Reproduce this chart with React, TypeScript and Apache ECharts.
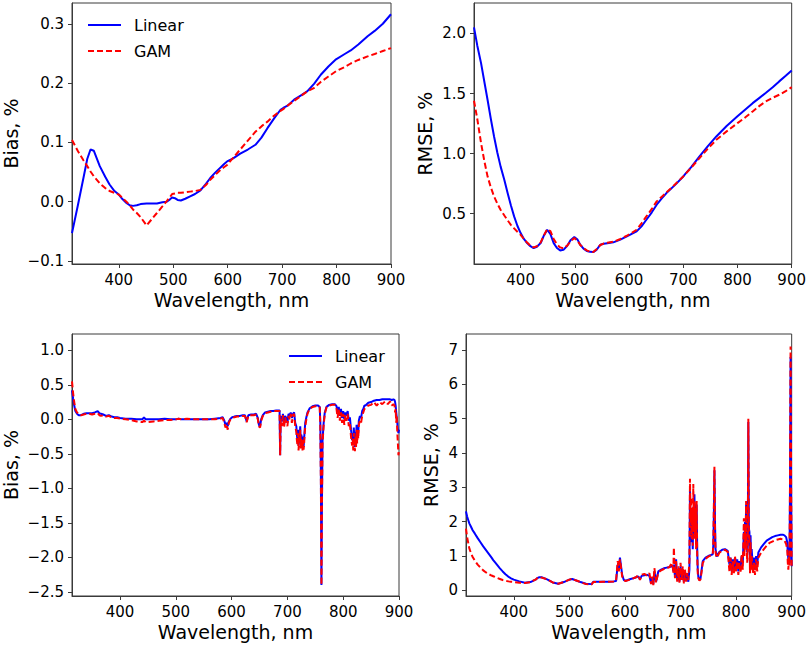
import React, { useEffect, useRef } from "react";
import * as echarts from "echarts";

// ---------- shared axis values ----------
const X_MIN = 314;
const X_MAX = 900;
const xTicks = [400, 500, 600, 700, 800, 900];

// ---------- top-left: Bias (smooth) ----------
const tlWl = [
  314, 325, 335, 342, 348, 354, 365, 375, 383, 392,
  400, 407, 414, 420, 426, 433, 440, 451, 460, 470,
  480, 488, 494, 498, 503, 508, 514, 522, 531, 540,
  550, 560, 568, 577, 586, 593, 599, 610, 623, 637,
  651, 662, 673, 685, 697, 702, 710, 722, 734, 746,
  759, 771, 785, 799, 815, 826, 840, 857, 870, 885,
  900,
];
const tlLinear = [
  -0.053, -0.005, 0.040, 0.072, 0.088, 0.086, 0.060, 0.042, 0.029, 0.018,
  0.012, 0.004, -0.002, -0.006, -0.007, -0.006, -0.004, -0.003, -0.003, -0.003,
  -0.001, 0.000, 0.004, 0.007, 0.006, 0.003, 0.002, 0.005, 0.009, 0.013,
  0.019, 0.030, 0.040, 0.049, 0.057, 0.063, 0.068, 0.073, 0.081, 0.088,
  0.096, 0.108, 0.124, 0.140, 0.155, 0.158, 0.162, 0.172, 0.179, 0.186,
  0.199, 0.214, 0.228, 0.240, 0.249, 0.255, 0.265, 0.279, 0.288, 0.300,
  0.316,
];
const tlGam = [
  0.104, 0.085, 0.070, 0.060, 0.051, 0.043, 0.031, 0.023, 0.018, 0.015,
  0.012, 0.006, 0.000, -0.006, -0.013, -0.019, -0.026, -0.040, -0.030, -0.019,
  -0.008, 0.001, 0.008, 0.013, 0.014, 0.015, 0.015, 0.016, 0.017, 0.018,
  0.020, 0.028, 0.037, 0.045, 0.053, 0.058, 0.062, 0.074, 0.088, 0.103,
  0.118, 0.127, 0.135, 0.145, 0.153, 0.156, 0.162, 0.170, 0.178, 0.186,
  0.192, 0.202, 0.211, 0.220, 0.227, 0.233, 0.239, 0.245, 0.249, 0.254,
  0.259,
];
const tlYTicks = [-0.1, 0.0, 0.1, 0.2, 0.3];

// ---------- top-right: RMSE (smooth) ----------
const trWl = [
  314, 320, 327, 333, 339, 345, 351, 357, 363, 370,
  376, 382, 388, 394, 400, 406, 412, 418, 424, 430,
  437, 443, 449, 455, 461, 467, 473, 479, 486, 492,
  499, 505, 510, 516, 522, 528, 534, 540, 547, 553,
  560, 571, 584, 596, 605, 614, 623, 632, 642, 651,
  660, 669, 685, 700, 715, 730, 745, 761, 780, 800,
  814, 828, 840, 852, 865, 877, 889, 900,
];
const trLinear = [
  2.05, 1.90, 1.753, 1.60, 1.448, 1.29, 1.143, 1.01, 0.894, 0.78,
  0.672, 0.57, 0.478, 0.40, 0.339, 0.29, 0.256, 0.23, 0.214, 0.225,
  0.256, 0.32, 0.367, 0.33, 0.256, 0.215, 0.195, 0.200, 0.234, 0.280,
  0.306, 0.285, 0.242, 0.210, 0.190, 0.183, 0.181, 0.200, 0.242, 0.250,
  0.255, 0.262, 0.285, 0.311, 0.333, 0.353, 0.395, 0.450, 0.512, 0.575,
  0.625, 0.672, 0.740, 0.810, 0.890, 0.977, 1.060, 1.143, 1.230, 1.310,
  1.365, 1.420, 1.462, 1.504, 1.552, 1.601, 1.647, 1.692,
];
const trGam = [
  1.44, 1.29, 1.088, 0.94, 0.811, 0.72, 0.644, 0.585, 0.533, 0.485,
  0.445, 0.408, 0.378, 0.350, 0.325, 0.290, 0.260, 0.235, 0.220, 0.230,
  0.262, 0.320, 0.372, 0.355, 0.290, 0.245, 0.220, 0.212, 0.235, 0.270,
  0.298, 0.275, 0.240, 0.215, 0.195, 0.185, 0.181, 0.205, 0.240, 0.252,
  0.258, 0.267, 0.290, 0.317, 0.340, 0.367, 0.420, 0.478, 0.540, 0.603,
  0.640, 0.677, 0.745, 0.810, 0.885, 0.963, 1.040, 1.115, 1.185, 1.254,
  1.300, 1.351, 1.395, 1.434, 1.465, 1.490, 1.520, 1.553,
];
const trYTicks = [0.5, 1.0, 1.5, 2.0];

// ---------- bottom panels: full spectral resolution ----------
const fullWl = [
  314, 316, 318, 320, 323, 326, 330, 335, 340, 345,
  350, 355, 360, 363, 366, 370, 375, 380, 385, 390,
  395, 400, 410, 420, 430, 440, 443, 446, 450, 460,
  470, 480, 490, 500, 505, 510, 520, 530, 540, 543,
  550, 560, 570, 580, 584, 587, 589, 591, 593, 595,
  598, 601, 605, 610, 615, 620, 624, 627, 630, 635,
  640, 644, 647, 649, 651, 653, 656, 660, 665, 670,
  675, 680, 684, 686, 687, 688, 690, 692, 694, 696,
  698, 700, 702, 704, 706, 708, 710, 712, 714, 716,
  717, 718, 719, 720, 721, 722, 723, 724, 725, 726,
  727, 728, 729, 730, 731, 732, 734, 736, 738, 740,
  745, 750, 755, 758, 759, 760, 761, 762, 763, 765,
  767, 770, 775, 780, 785, 788, 790, 792, 794, 796,
  798, 800, 802, 804, 806, 808, 810, 812, 814, 815,
  816, 817, 818, 819, 820, 821, 822, 823, 824, 825,
  826, 827, 828, 830, 832, 834, 836, 838, 840, 845,
  850, 855, 860, 865, 870, 875, 880, 884, 887, 890,
  892, 893, 894, 895, 896, 897, 898, 899, 900,
];
const blLinear = [
  0.42, 0.30, 0.20, 0.12, 0.08, 0.06, 0.06, 0.08, 0.09, 0.09,
  0.09, 0.10, 0.12, 0.09, 0.08, 0.07, 0.05, 0.06, 0.04, 0.03,
  0.03, 0.02, 0.01, 0.01, 0.00, 0.00, 0.03, 0.00, 0.00, 0.00,
  0.00, 0.01, 0.00, 0.00, 0.01, 0.00, 0.00, 0.00, 0.00, 0.00,
  0.00, 0.00, 0.01, 0.02, 0.03, -0.02, -0.08, -0.05, -0.10, -0.03,
  0.01, 0.03, 0.04, 0.05, 0.05, 0.06, 0.06, -0.03, 0.06, 0.07,
  0.07, 0.08, 0.02, -0.08, -0.10, 0.00, 0.06, 0.10, 0.11, 0.12,
  0.12, 0.13, 0.13, 0.13, -0.52, 0.05, -0.03, 0.08, -0.06, 0.05,
  0.02, -0.05, 0.08, 0.05, 0.10, 0.02, 0.08, 0.10, -0.05, -0.10,
  -0.22, -0.30, -0.15, -0.38, -0.20, -0.25, -0.10, -0.35, -0.22, -0.30,
  -0.38, -0.25, -0.40, -0.28, -0.15, -0.05, 0.03, 0.10, 0.13, 0.16,
  0.19, 0.20, 0.20, 0.18, -0.05, -0.80, -2.40, -1.10, -0.30, -0.05,
  0.10, 0.18, 0.21, 0.22, 0.22, 0.19, 0.10, 0.18, 0.05, 0.15,
  0.02, 0.12, 0.00, 0.10, 0.05, 0.12, -0.02, 0.03, -0.15, -0.22,
  -0.30, -0.20, -0.35, -0.12, -0.28, -0.40, -0.18, -0.30, -0.08, -0.25,
  -0.10, -0.20, -0.02, 0.05, 0.02, 0.12, 0.15, 0.20, 0.20, 0.24,
  0.25, 0.27, 0.28, 0.28, 0.29, 0.29, 0.29, 0.29, 0.28, 0.29,
  0.28, 0.25, 0.20, 0.10, 0.10, -0.05, -0.15, -0.20, -0.15,
];
const blGam = [
  0.55, 0.38, 0.25, 0.15, 0.10, 0.08, 0.06, 0.07, 0.08, 0.08,
  0.07, 0.08, 0.09, 0.06, 0.05, 0.06, 0.04, 0.05, 0.03, 0.02,
  0.02, 0.01, 0.00, -0.01, -0.03, -0.04, -0.02, -0.04, -0.04, -0.03,
  -0.02, -0.01, -0.01, 0.00, 0.01, 0.00, 0.01, 0.00, 0.00, 0.00,
  0.00, 0.00, 0.00, 0.01, 0.02, -0.05, -0.12, -0.07, -0.15, -0.05,
  0.00, 0.02, 0.03, 0.04, 0.04, 0.05, 0.05, -0.04, 0.05, 0.06,
  0.06, 0.07, 0.00, -0.10, -0.12, -0.02, 0.05, 0.09, 0.10, 0.11,
  0.12, 0.12, 0.12, 0.12, -0.52, 0.00, -0.10, 0.06, -0.12, 0.03,
  -0.05, -0.10, 0.05, 0.00, 0.08, -0.05, 0.06, 0.08, -0.10, -0.18,
  -0.30, -0.38, -0.20, -0.45, -0.25, -0.32, -0.15, -0.42, -0.28, -0.38,
  -0.45, -0.30, -0.44, -0.35, -0.20, -0.10, 0.00, 0.08, 0.12, 0.15,
  0.18, 0.19, 0.19, 0.17, -0.10, -0.90, -2.40, -1.20, -0.35, -0.08,
  0.08, 0.17, 0.20, 0.21, 0.21, 0.15, 0.02, 0.14, -0.02, 0.10,
  -0.05, 0.08, -0.08, 0.06, -0.02, 0.08, -0.10, -0.05, -0.25, -0.32,
  -0.38, -0.28, -0.45, -0.20, -0.35, -0.46, -0.25, -0.40, -0.15, -0.35,
  -0.18, -0.28, -0.08, -0.02, -0.05, 0.05, 0.10, 0.15, 0.16, 0.20,
  0.21, 0.25, 0.20, 0.25, 0.22, 0.26, 0.22, 0.26, 0.20, 0.22,
  0.20, 0.10, 0.15, -0.05, 0.05, -0.20, -0.35, -0.52, -0.45,
];
const blYTicks = [-2.5, -2.0, -1.5, -1.0, -0.5, 0.0, 0.5, 1.0];

const brLinear = [
  2.30, 2.15, 2.05, 1.95, 1.85, 1.75, 1.65, 1.52, 1.40, 1.28,
  1.17, 1.06, 0.95, 0.88, 0.82, 0.74, 0.64, 0.55, 0.47, 0.40,
  0.35, 0.31, 0.26, 0.22, 0.24, 0.32, 0.36, 0.38, 0.38, 0.32,
  0.23, 0.19, 0.24, 0.31, 0.33, 0.30, 0.24, 0.19, 0.18, 0.25,
  0.25, 0.25, 0.25, 0.26, 0.27, 0.75, 0.60, 0.95, 0.70, 0.45,
  0.30, 0.28, 0.30, 0.33, 0.35, 0.38, 0.40, 0.32, 0.42, 0.44,
  0.45, 0.42, 0.20, 0.35, 0.18, 0.55, 0.25, 0.55, 0.60, 0.64,
  0.66, 0.68, 0.70, 0.72, 0.55, 0.75, 0.40, 0.90, 0.30, 0.60,
  0.25, 0.70, 0.35, 0.60, 0.25, 0.55, 0.30, 0.45, 0.25, 0.60,
  2.90, 1.80, 2.40, 1.40, 2.00, 1.20, 2.30, 1.60, 2.80, 1.80,
  2.20, 1.40, 2.50, 1.20, 0.60, 0.40, 0.30, 0.35, 0.60, 0.85,
  0.95, 1.00, 1.03, 1.05, 1.30, 2.20, 3.50, 2.00, 1.20, 0.98,
  1.05, 1.12, 1.18, 1.20, 1.15, 0.75, 0.95, 0.55, 0.90, 0.65,
  0.95, 0.70, 0.90, 0.55, 0.85, 0.65, 1.00, 0.80, 1.70, 1.20,
  2.00, 1.30, 2.50, 1.50, 1.10, 1.60, 4.90, 1.80, 1.70, 0.70,
  1.60, 0.80, 1.20, 0.70, 0.95, 0.60, 1.00, 0.75, 1.10, 1.25,
  1.35, 1.45, 1.50, 1.55, 1.58, 1.60, 1.62, 1.62, 1.60, 1.55,
  1.40, 1.10, 0.90, 1.20, 0.80, 3.00, 6.80, 2.50, 0.70,
];
const brGam = [
  1.80, 1.55, 1.38, 1.22, 1.08, 0.97, 0.86, 0.75, 0.66, 0.58,
  0.52, 0.47, 0.43, 0.41, 0.39, 0.36, 0.33, 0.30, 0.28, 0.26,
  0.25, 0.24, 0.22, 0.21, 0.24, 0.32, 0.37, 0.38, 0.37, 0.32,
  0.23, 0.19, 0.24, 0.31, 0.34, 0.30, 0.24, 0.18, 0.17, 0.24,
  0.24, 0.25, 0.25, 0.26, 0.27, 0.85, 0.55, 0.90, 0.65, 0.40,
  0.30, 0.27, 0.29, 0.32, 0.35, 0.38, 0.45, 0.30, 0.45, 0.48,
  0.42, 0.50, 0.18, 0.40, 0.15, 0.65, 0.22, 0.52, 0.58, 0.62,
  0.65, 0.67, 0.80, 0.68, 0.50, 1.25, 0.35, 0.85, 0.25, 0.70,
  0.22, 0.80, 0.30, 0.70, 0.20, 0.60, 0.25, 0.50, 0.30, 0.90,
  3.25, 2.00, 2.70, 1.50, 2.30, 1.30, 3.10, 1.70, 2.60, 1.50,
  2.40, 1.20, 2.60, 1.00, 0.50, 0.35, 0.28, 0.32, 0.55, 0.80,
  0.92, 0.98, 1.02, 1.04, 1.40, 2.50, 3.60, 1.80, 1.10, 0.95,
  1.00, 1.10, 1.15, 1.18, 1.12, 0.55, 0.95, 0.45, 0.85, 0.50,
  1.00, 0.55, 0.85, 0.45, 0.80, 0.50, 1.05, 0.60, 2.10, 1.00,
  1.80, 1.20, 2.60, 1.30, 0.80, 1.40, 5.00, 1.50, 1.60, 0.50,
  1.40, 0.60, 1.00, 0.50, 0.80, 0.45, 0.90, 0.55, 0.95, 1.10,
  1.20, 1.30, 1.38, 1.42, 1.46, 1.48, 1.50, 1.48, 1.45, 1.35,
  1.20, 0.80, 0.60, 1.00, 0.70, 3.20, 7.10, 3.00, 0.70,
];
const brYTicks = [0, 1, 2, 3, 4, 5, 6, 7];

const SERIES_NAMES = ["Linear", "GAM"];

// ---------- styles ----------
const FONT = "DejaVu Sans";
const AXIS_COLOR = "#3a3a3a";
const BLUE = "#0000ff";
const RED = "#ff0000";

const pairs = (xs: number[], ys: number[]) => xs.map((x, i) => [x, ys[i]]);
const fmt1 = (v: number) => v.toFixed(1).replace("-", "\u2212");
const fmt0 = (v: number) => v.toFixed(0);

function xAxis(gridIndex: number) {
  return {
    type: "value",
    gridIndex,
    min: X_MIN,
    max: X_MAX,
    name: "Wavelength, nm",
    nameLocation: "middle",
    nameGap: 26,
    nameTextStyle: { fontFamily: FONT, fontSize: 19, color: "#000" },
    axisLine: { show: true, onZero: false, lineStyle: { color: AXIS_COLOR, width: 1 } },
    axisTick: {
      show: true,
      inside: false,
      length: 4,
      customValues: xTicks,
      lineStyle: { color: AXIS_COLOR, width: 1 },
    },
    axisLabel: {
      customValues: xTicks,
      fontFamily: FONT,
      fontSize: 15,
      color: "#000",
      margin: 8,
      showMinLabel: true,
      showMaxLabel: true,
    },
    splitLine: { show: false },
  };
}

function yAxis(
  gridIndex: number,
  name: string,
  min: number,
  max: number,
  ticks: number[],
  fmt: (v: number) => string,
  nameGap: number
) {
  return {
    type: "value",
    gridIndex,
    min,
    max,
    name,
    nameLocation: "middle",
    nameGap,
    nameTextStyle: { fontFamily: FONT, fontSize: 19, color: "#000" },
    axisLine: { show: true, onZero: false, lineStyle: { color: AXIS_COLOR, width: 1 } },
    axisTick: {
      show: true,
      inside: false,
      length: 4,
      customValues: ticks,
      lineStyle: { color: AXIS_COLOR, width: 1 },
    },
    axisLabel: {
      customValues: ticks,
      formatter: fmt,
      fontFamily: FONT,
      fontSize: 15,
      color: "#000",
      margin: 8,
    },
    splitLine: { show: false },
  };
}

function lineSeries(
  name: string,
  idx: number,
  data: number[][],
  color: string,
  dashed: boolean
) {
  return {
    name,
    type: "line",
    xAxisIndex: idx,
    yAxisIndex: idx,
    data,
    symbol: "none",
    showSymbol: false,
    clip: true,
    z: dashed ? 3 : 2,
    itemStyle: { color },
    lineStyle: dashed
      ? { color, width: 2, type: [6, 3] }
      : { color, width: 2, type: "solid" },
  };
}

function legend(left: number, top: number) {
  return {
    data: SERIES_NAMES,
    orient: "vertical",
    left,
    top,
    padding: 0,
    itemWidth: 33,
    itemHeight: 14,
    itemGap: 10,
    selectedMode: false,
    itemStyle: { opacity: 0 },
    textStyle: {
      fontFamily: FONT,
      fontSize: 16,
      color: "#000",
      padding: [0, 0, 0, 8],
    },
  };
}

const gridBase = {
  show: true,
  borderColor: AXIS_COLOR,
  borderWidth: 1,
  backgroundColor: "transparent",
  containLabel: false,
};

export default function App() {
  const ref = useRef<HTMLDivElement>(null);

  useEffect(() => {
    document.body.style.margin = "0";
    if (!ref.current) return;
    const chart = echarts.init(ref.current, undefined, { renderer: "svg" });

    const option = {
      animation: false,
      backgroundColor: "#ffffff",
      grid: [
        { ...gridBase, left: 72, top: 3, width: 319, height: 261 },
        { ...gridBase, left: 474, top: 3, width: 319, height: 261 },
        { ...gridBase, left: 72, top: 334, width: 327, height: 262 },
        { ...gridBase, left: 466, top: 334, width: 327, height: 262 },
      ],
      xAxis: [xAxis(0), xAxis(1), xAxis(2), xAxis(3)],
      yAxis: [
        yAxis(0, "Bias, %", -0.105, 0.335, tlYTicks, fmt1, 52),
        yAxis(1, "RMSE, %", 0.082, 2.253, trYTicks, fmt1, 40),
        yAxis(2, "Bias, %", -2.558, 1.236, blYTicks, fmt1, 52),
        yAxis(3, "RMSE, %", -0.166, 7.467, brYTicks, fmt0, 26),
      ],
      legend: [legend(87, 17), legend(288, 348)],
      series: [
        lineSeries("Linear", 0, pairs(tlWl, tlLinear), BLUE, false),
        lineSeries("GAM", 0, pairs(tlWl, tlGam), RED, true),
        lineSeries("Linear", 1, pairs(trWl, trLinear), BLUE, false),
        lineSeries("GAM", 1, pairs(trWl, trGam), RED, true),
        lineSeries("Linear", 2, pairs(fullWl, blLinear), BLUE, false),
        lineSeries("GAM", 2, pairs(fullWl, blGam), RED, true),
        lineSeries("Linear", 3, pairs(fullWl, brLinear), BLUE, false),
        lineSeries("GAM", 3, pairs(fullWl, brGam), RED, true),
      ],
    };

    chart.setOption(option as any);
    return () => {
      chart.dispose();
    };
  }, []);

  return (
    <div
      ref={ref}
      style={{ position: "absolute", left: 0, top: 0, width: 809, height: 645 }}
    />
  );
}
